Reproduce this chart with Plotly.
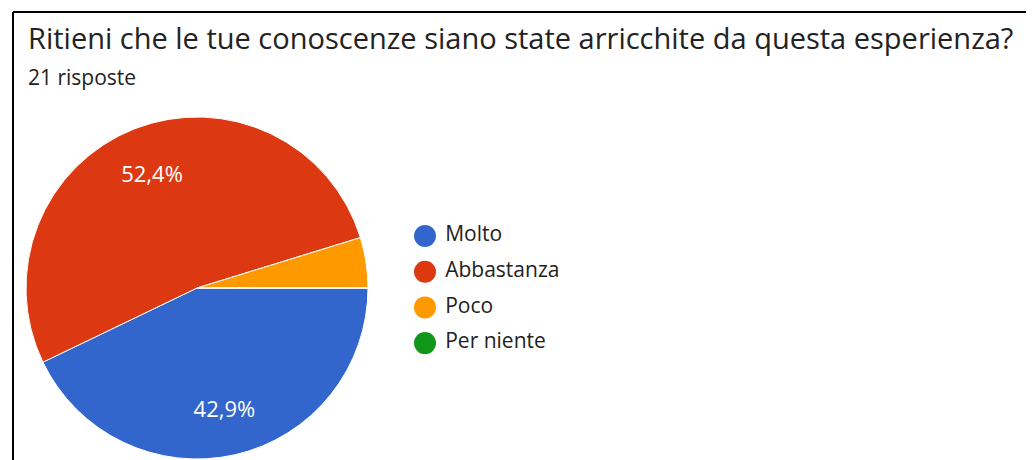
import plotly.graph_objects as go

# Dati del sondaggio
domanda = 'Ritieni che le tue conoscenze siano state arricchite da questa esperienza?'
sottotitolo = '21 risposte'
etichette = ['Molto', 'Abbastanza', 'Poco', 'Per niente']
risposte = [9, 11, 1, 0]
colori = ['#3366CC', '#DC3912', '#FF9900', '#109618']

W, H = 1034, 460
FONT = 'Open Sans'
TESTO = '#222222'

fig = go.Figure()

# Torta
dominio_torta = dict(x=[18 / W, 360 / W], y=[1 - 451 / H, 1 - 109 / H])
fig.add_trace(go.Pie(
    labels=etichette, values=risposte, sort=False, direction='clockwise', rotation=90,
    marker=dict(colors=colori, line=dict(color='white', width=1)),
    textinfo='none', hoverinfo='label+percent', showlegend=False,
    domain=dominio_torta,
))

# Percentuali: anello trasparente, così il testo sta a ~3/4 del raggio come in Google Moduli
testi = ['%{percent:.1%}' if r / sum(risposte) > 0.1 else '' for r in risposte]
fig.add_trace(go.Pie(
    labels=etichette, values=risposte, sort=False, direction='clockwise', rotation=90,
    hole=0.44, marker=dict(colors=['rgba(0,0,0,0)'] * len(etichette)),
    texttemplate=testi, textposition='inside', insidetextorientation='horizontal',
    textfont=dict(color='white', size=22, family=FONT),
    hoverinfo='skip', showlegend=False, domain=dominio_torta,
))

# Legenda con pallini grandi (scatter su assi propri)
fig.add_trace(go.Scatter(
    x=[0] * len(etichette), y=etichette, mode='markers+text',
    text=etichette, texttemplate=' %{text}', textposition='middle right',
    textfont=dict(family=FONT, size=21, color=TESTO),
    marker=dict(symbol='circle', size=22, color=colori),
    hoverinfo='skip', showlegend=False, cliponaxis=False,
))

passo = 35.7
primo = 228
fig.update_xaxes(visible=False, range=[0, 1], domain=[417 / W, 700 / W], fixedrange=True)
fig.update_yaxes(visible=False, type='category', range=[3.5, -0.5],
                 domain=[1 - (primo + 3.5 * passo) / H, 1 - (primo - 0.5 * passo) / H], fixedrange=True)

# Titolo e sottotitolo
fig.add_annotation(text=domanda, x=18 / W, y=1 - 8 / H, xref='paper', yref='paper',
                   xanchor='left', yanchor='top', showarrow=False,
                   font=dict(family=FONT, size=29, color=TESTO))
fig.add_annotation(text=sottotitolo, x=18 / W, y=1 - 53 / H, xref='paper', yref='paper',
                   xanchor='left', yanchor='top', showarrow=False,
                   font=dict(family=FONT, size=21, color=TESTO))

# Bordo (in alto e a sinistra)
fig.add_shape(type='line', xref='paper', yref='paper', x0=5 / W, x1=1, y0=1 - 4 / H, y1=1 - 4 / H,
              line=dict(color='black', width=2))
fig.add_shape(type='line', xref='paper', yref='paper', x0=5 / W, x1=5 / W, y0=0, y1=1 - 4 / H,
              line=dict(color='black', width=2))

fig.update_layout(
    width=W, height=H, margin=dict(l=0, r=0, t=0, b=0),
    paper_bgcolor='white', plot_bgcolor='white',
    separators=',.',
    font=dict(family=FONT, color=TESTO),
    showlegend=False,
)

fig.write_html('out.html')
